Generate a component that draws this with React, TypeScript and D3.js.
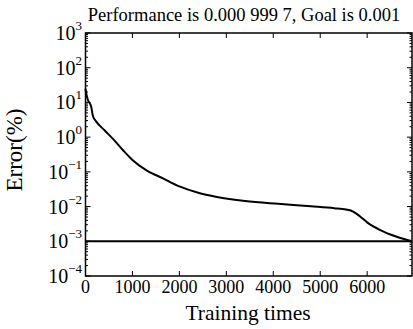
import React, { useEffect, useRef } from 'react';
import * as d3 from 'd3';

// training record (epoch, error)
const epochs = [0, 10, 50, 120, 160, 230, 400, 600, 800, 1000, 1300, 1650, 2000, 2400, 2800, 3400, 4100, 4800, 5300, 5550, 5700, 5850, 6000, 6280, 6630, 6955];
const errors = [25, 20, 12, 7.6, 4.0, 2.8, 1.6, 0.85, 0.42, 0.22, 0.11, 0.065, 0.038, 0.025, 0.019, 0.0145, 0.012, 0.0102, 0.009, 0.0082, 0.0072, 0.0052, 0.0035, 0.0021, 0.00135, 0.0009997];
const goal = 0.001;
const xTicks = [0, 1000, 2000, 3000, 4000, 5000, 6000];
const yExponents = [3, 2, 1, 0, -1, -2, -3, -4];
const titleText = 'Performance is 0.000 999 7, Goal is 0.001';
const xLabel = 'Training times';
const yLabel = 'Error(%)';

const W = 413;
const H = 329;
const margin = { top: 33, right: 1, bottom: 53, left: 85.5 };
const font = "'Liberation Serif', 'DejaVu Serif', serif";

const App = () => {
  const gRef = useRef<SVGGElement>(null);

  const x = d3.scaleLinear().domain([0, 6955]).range([margin.left, W - margin.right]);
  const y = d3.scaleLog().domain([1e-4, 1e3]).range([H - margin.bottom, margin.top]);

  useEffect(() => {
    const g = d3.select(gRef.current);
    g.selectAll('*').remove();

    // minor + major ticks, drawn inward on all four sides
    const minor: number[] = [];
    for (let e = -4; e < 3; e++) {
      for (let k = 2; k <= 9; k++) minor.push(k * Math.pow(10, e));
    }
    const x0 = x.range()[0];
    const x1 = x.range()[1];
    const yb = y.range()[0];
    const yt = y.range()[1];

    g.selectAll('line.yminL').data(minor).enter().append('line')
      .attr('x1', x0).attr('x2', x0 + 2.5)
      .attr('y1', d => y(d)).attr('y2', d => y(d))
      .attr('stroke', '#000').attr('stroke-width', 1);
    g.selectAll('line.yminR').data(minor).enter().append('line')
      .attr('x1', x1).attr('x2', x1 - 2.5)
      .attr('y1', d => y(d)).attr('y2', d => y(d))
      .attr('stroke', '#000').attr('stroke-width', 1);

    const majors = yExponents.map(e => Math.pow(10, e));
    g.selectAll('line.ymajL').data(majors).enter().append('line')
      .attr('x1', x0).attr('x2', x0 + 5)
      .attr('y1', d => y(d)).attr('y2', d => y(d))
      .attr('stroke', '#000').attr('stroke-width', 1);
    g.selectAll('line.ymajR').data(majors).enter().append('line')
      .attr('x1', x1).attr('x2', x1 - 5)
      .attr('y1', d => y(d)).attr('y2', d => y(d))
      .attr('stroke', '#000').attr('stroke-width', 1);

    g.selectAll('line.xB').data(xTicks).enter().append('line')
      .attr('x1', d => x(d)).attr('x2', d => x(d))
      .attr('y1', yb).attr('y2', yb - 5)
      .attr('stroke', '#000').attr('stroke-width', 1);
    g.selectAll('line.xT').data(xTicks).enter().append('line')
      .attr('x1', d => x(d)).attr('x2', d => x(d))
      .attr('y1', yt).attr('y2', yt + 5)
      .attr('stroke', '#000').attr('stroke-width', 1);
  }, []);

  const pts = epochs.map((e, i) => [e, errors[i]] as [number, number]);
  const line = d3.line<[number, number]>()
    .x(d => x(d[0]))
    .y(d => y(d[1]))
    .curve(d3.curveMonotoneX);

  const [x0, x1] = x.range();
  const [yb, yt] = y.range();
  const ts = { fontFamily: font };

  return (
    <svg width={W} height={H} style={{ position: 'absolute', left: 0, top: 0, background: '#fff', fontFamily: font }}>
      <text x={244} y={21} textAnchor="middle" fontSize={18.5} style={ts}>{titleText}</text>

      <line x1={x0} x2={x1} y1={y(goal)} y2={y(goal)} stroke="#000" strokeWidth={2} />
      <path d={line(pts) || ''} fill="none" stroke="#000" strokeWidth={2} />

      <rect x={x0} y={yt} width={x1 - x0} height={yb - yt} fill="none" stroke="#000" strokeWidth={1.5} />
      <g ref={gRef} />

      {xTicks.map(t => (
        <text key={t} x={x(t)} y={293} textAnchor="middle" fontSize={18} style={ts}>{t}</text>
      ))}
      {yExponents.map(e => (
        <text key={e} x={82} y={y(Math.pow(10, e)) + 7} textAnchor="end" fontSize={20} style={ts}>
          10<tspan dy={-10} fontSize={13}>{e < 0 ? '\u2212' + Math.abs(e) : e}</tspan>
        </text>
      ))}

      <text x={248} y={320} textAnchor="middle" fontSize={21.5} style={ts}>{xLabel}</text>
      <text transform={`translate(22, 150) rotate(-90)`} textAnchor="middle" fontSize={23} style={ts}>{yLabel}</text>
    </svg>
  );
};

export default App;
